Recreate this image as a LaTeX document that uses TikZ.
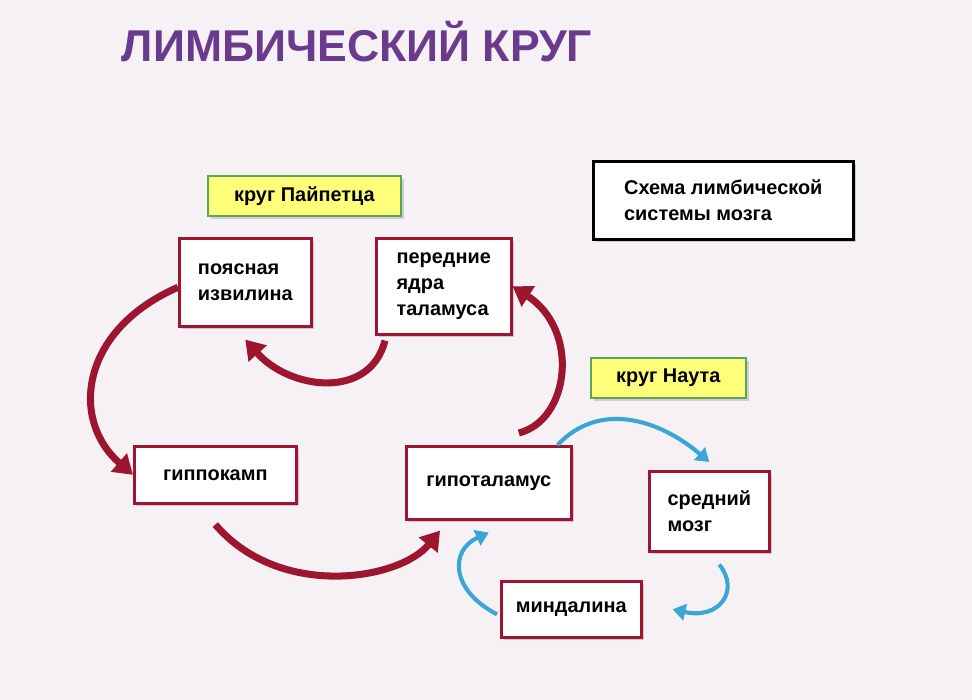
\documentclass[tikz,border=0pt]{standalone}
\usepackage{fontspec}
\setmainfont{Liberation Sans}
\usetikzlibrary{arrows.meta,shadows,calc}
\definecolor{bg}{HTML}{F6F1F4}
\definecolor{limbred}{HTML}{9E1530}
\definecolor{limbblue}{HTML}{3AA6D6}
\definecolor{titlepurple}{HTML}{6A3A8C}
\definecolor{tagyellow}{HTML}{FFFF7A}
\tikzset{
  cellbox/.style={draw=limbred, line width=2.2pt, fill=white, drop shadow={opacity=0.35},
    font=\fontsize{17}{22}\selectfont\bfseries, align=left, anchor=north west, inner sep=6pt},
  tagbox/.style={draw=gray!70!green, line width=1.5pt, fill=tagyellow, drop shadow={opacity=0.3},
    font=\fontsize{17}{22}\selectfont\bfseries, anchor=north west, inner sep=6pt},
  redarrow/.style={limbred, line width=6pt, -{Triangle[length=16pt,width=20pt]}},
  bluearrow/.style={limbblue, line width=3.5pt, -{Triangle[length=11pt,width=14pt]}},
}
\begin{document}
\begin{tikzpicture}[x=0.03cm,y=-0.03cm]
  \fill[bg] (0,0) rectangle (972,700);
  \useasboundingbox (0,0) rectangle (972,700);
  % title
  \node (title) [titlepurple, font=\fontsize{38}{42}\selectfont\bfseries] at (357,42) {ЛИМБИЧЕСКИЙ КРУГ};
  % boxes
  \node (scheme) [cellbox, draw=black, minimum width=260*0.03cm, minimum height=78*0.03cm] at (592,160)
    {Схема лимбической\\системы мозга};
  \node (papez) [tagbox, minimum width=193*0.03cm, minimum height=40*0.03cm] at (207,175) {круг Пайпетца};
  \node (nauta) [tagbox, minimum width=155*0.03cm, minimum height=40*0.03cm] at (590,357) {круг Наута};
  \node (cingul) [cellbox, minimum width=132*0.03cm, minimum height=88*0.03cm] at (178,237) {поясная\\извилина};
  \node (thal) [cellbox, minimum width=135*0.03cm, minimum height=96*0.03cm] at (375,237) {передние\\ядра\\таламуса};
  \node (hippo) [cellbox, minimum width=162*0.03cm, minimum height=57*0.03cm] at (133,445) {гиппокамп};
  \node (hypo) [cellbox, minimum width=165*0.03cm, minimum height=73*0.03cm] at (405,445) {гипоталамус};
  \node (mid) [cellbox, minimum width=120*0.03cm, minimum height=80*0.03cm] at (648,470) {средний\\мозг};
  \node (amyg) [cellbox, minimum width=140*0.03cm, minimum height=56*0.03cm] at (500,580) {миндалина};
  % Papez circle
  \draw[redarrow] ($(cingul.west)+(0,5)$) .. controls (80,330) and (70,420) .. (hippo.west);
  \draw[redarrow] ($(hippo.south)+(0,20)$) .. controls (280,600) and (400,580) .. ($(hypo.south west)+(35,10)$);
  \draw[redarrow] ($(hypo.north)+(30,-12)$) .. controls (570,420) and (580,330) .. (thal.east);
  \draw[redarrow] ($(thal.south west)+(10,5)$) .. controls (370,400) and (290,390) .. ($(cingul.south)+(0,12)$);
  % Nauta circle
  \draw[bluearrow] ($(hypo.north east)+(-15,0)$) .. controls (600,400) and (660,420) .. ($(mid.north)+(0,-8)$);
  \draw[bluearrow] ($(mid.south)+(10,12)$) .. controls (740,590) and (720,620) .. ($(amyg.east)+(30,0)$);
  \draw[bluearrow] ($(amyg.west)+(-3,5)$) .. controls (450,590) and (450,550) .. ($(hypo.south)+(0,12)$);
\end{tikzpicture}
\end{document}
